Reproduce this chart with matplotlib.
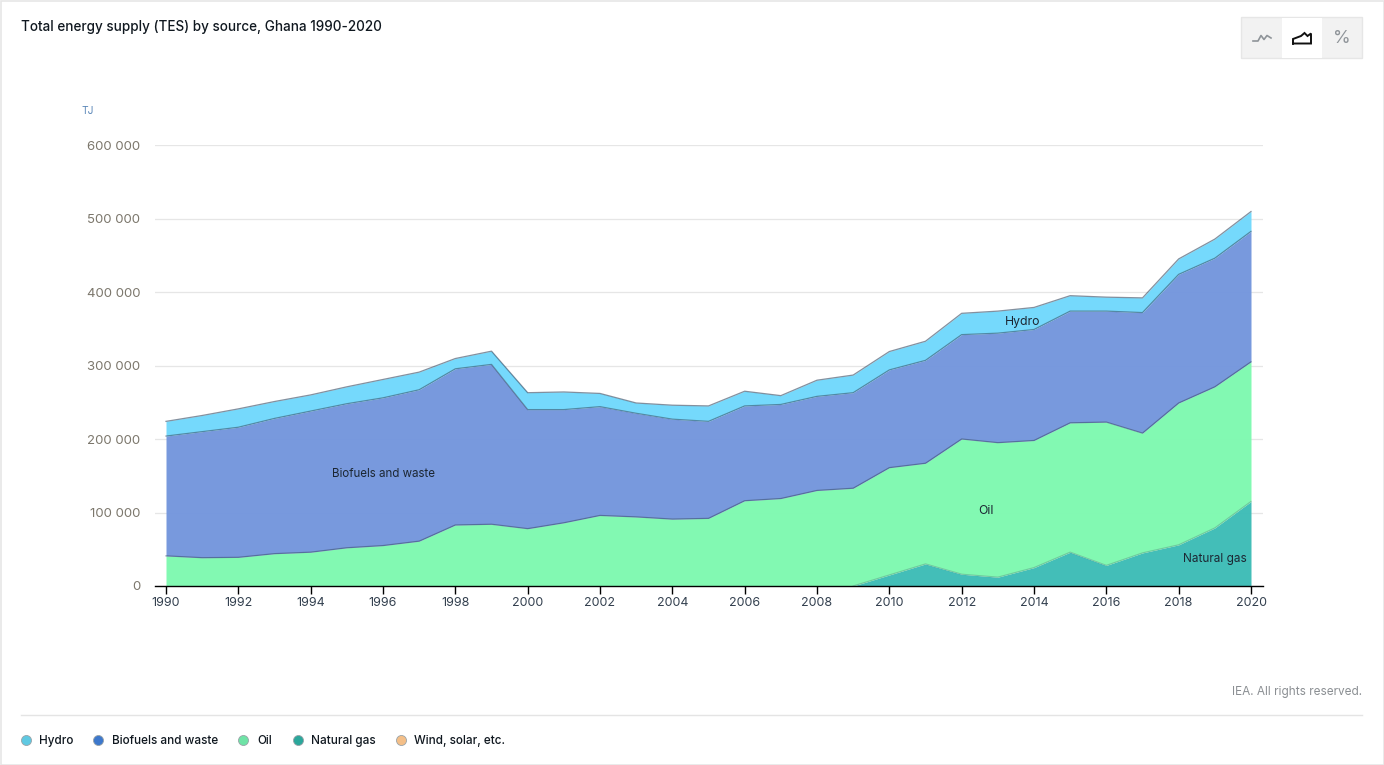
import matplotlib
matplotlib.use("Agg")
import matplotlib.pyplot as plt
from matplotlib.patches import Rectangle
from matplotlib.ticker import FuncFormatter

plt.rcParams['font.family'] = ['Inter', 'DejaVu Sans']

years = list(range(1990, 2021))
natural_gas = [0]*19 + [0, 15000, 30000, 16000, 12000, 25000, 46000, 28000, 45000, 56000, 79000, 115000]
oil = [41000, 38500, 39000, 44000, 46000, 52000, 55000, 61000, 83000, 84000, 78000, 86000, 96000, 94000, 91000,
       92000, 116000, 119000, 130000, 133000, 146000, 137000, 184000, 183000, 173000, 176000, 195000, 163000,
       193000, 192000, 190000]
biofuels = [163000, 171500, 177000, 184000, 192000, 196000, 201000, 206000, 212500, 217500, 162000, 154000,
            148000, 141000, 136000, 132000, 129000, 128000, 128000, 130000, 133000, 140000, 142000, 149000,
            151000, 152000, 151000, 164000, 175000, 175000, 177500]
hydro = [20000, 22000, 25000, 23000, 22000, 23000, 25000, 24000, 14000, 18000, 23000, 24000, 18000, 14000, 19000,
         21000, 20000, 12000, 22000, 24000, 25000, 26000, 29000, 30000, 30000, 21000, 19000, 20000, 21000, 26000,
         27000]
legend_labels = ["Hydro", "Biofuels and waste", "Oil", "Natural gas", "Wind, solar, etc."]
legend_colors = ["#5FC9E2", "#3D78CC", "#6FE3A6", "#2BA79B", "#F4BF88"]
y_ticks = [0, 100000, 200000, 300000, 400000, 500000, 600000]
x_ticks = list(range(1990, 2021, 2))

W, H = 1384, 765
fig = plt.figure(figsize=(W/100, H/100), dpi=100, facecolor="white")
ax = fig.add_axes([155/W, 1-586/H, (1263-155)/W, (586-145)/H])

ax.set_ylim(0, 600000)
ax.set_xlim(1990 - 11/36.17, 2020 + 12/36.17)
ax.grid(axis="y", color="#e6e6e6", lw=0.9)
ax.set_axisbelow(True)

layers = [natural_gas, oil, biofuels, hydro]
fills = ["#3FBDB7", "#80F9B1", "#7597DD", "#72D9FC"]
edge_alpha = [0.25, 0.5, 0.55, 0.6]
start = [19, 0, 0, 0]
base = [0]*len(years)
for vals, col, ea, st in zip(layers, fills, edge_alpha, start):
    top = [b+v for b, v in zip(base, vals)]
    ax.fill_between(years, base, top, color=col, lw=0, alpha=0.98, zorder=2)
    ax.plot(years[st:], top[st:], color="#33475f", lw=0.9, alpha=ea, zorder=3, solid_joinstyle="round")
    base = top

for s in ["top", "left", "right"]:
    ax.spines[s].set_visible(False)
ax.spines["bottom"].set_color("black")
ax.spines["bottom"].set_linewidth(1)
ax.set_yticks(y_ticks)
ax.yaxis.set_major_formatter(FuncFormatter(lambda v, p: f"{int(v):,}".replace(",", " ")))
ax.tick_params(axis="y", length=0, pad=10.5, labelsize=9.5, labelcolor="#7c776c")
ax.set_xticks(x_ticks)
ax.tick_params(axis="x", length=6, width=1, color="black", pad=2, labelsize=9, labelcolor="#33404f")

ax.text(1994.6, 152700, "Biofuels and waste", fontsize=8.3, color="#1c2733", va="center", zorder=5)
ax.text(2012.45, 101700, "Oil", fontsize=8.8, color="#1c2733", va="center", zorder=5)
ax.text(2013.2, 358700, "Hydro", fontsize=8.8, color="#1c2733", va="center", zorder=5)
ax.text(2018.13, 36700, "Natural gas", fontsize=8.5, color="#1c2733", va="center", zorder=5)

ov = fig.add_axes([0, 0, 1, 1], facecolor="none", zorder=10)
ov.set_xlim(0, W); ov.set_ylim(H, 0); ov.axis("off")

# card frame
ov.add_patch(Rectangle((0.5, 0.5), W-1, H-1, fill=False, ec="#e6e6e6", lw=1.2))
ov.text(21, 27, "Total energy supply (TES) by source, Ghana 1990-2020", fontsize=9.72,
        fontweight="medium", color="#101820", va="center")
ov.text(81, 110.5, "TJ", fontsize=7.4, color="#5b87b8", va="center")
ov.text(1362, 692, "IEA. All rights reserved.", fontsize=8.5, color="#8b8f93", va="center", ha="right")
ov.plot([21, 1362], [715.0, 715.0], color="#e4e4e4", lw=1)

# view switcher
ov.add_patch(Rectangle((1241.0, 17.0), 121, 41, fc="#f2f2f2", ec="#e6e6e6", lw=1))
ov.add_patch(Rectangle((1282, 18), 40, 40, fc="white", ec="none"))
ov.plot([1253, 1258, 1261, 1264, 1267, 1271], [41, 41, 35.5, 39.5, 35.5, 38], color="#8f9499", lw=1.2)
ov.plot([1293, 1293, 1301, 1304.5, 1307.5, 1311, 1311, 1293], [43.5, 39, 36, 33, 36, 33.5, 43.5, 43.5],
        color="#111111", lw=1.4, solid_joinstyle="miter")
ov.text(1341.5, 38.5, "%", fontsize=13, color="#8f9499", ha="center", va="center")

# legend
swatch_x = [26, 98, 243, 298, 401]
text_x = [39, 112, 257, 311, 414]
for sx, tx, lab, col in zip(swatch_x, text_x, legend_labels, legend_colors):
    ov.scatter([sx], [740], s=52, color=col, edgecolors="#9aa3a8", linewidths=0.6)
    ov.text(tx, 744, lab, fontsize=8.45, color="#101820", va="baseline", fontweight="medium")

fig.savefig("out.png", dpi=100, facecolor="white")
